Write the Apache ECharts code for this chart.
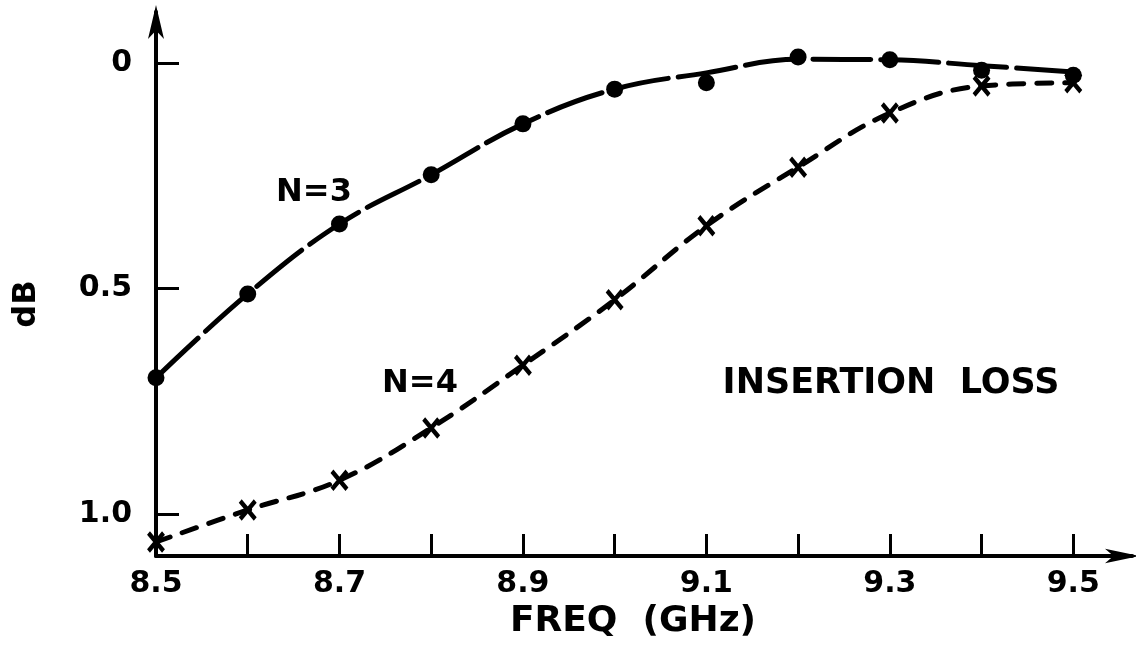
<!DOCTYPE html>
<html>
<head>
<meta charset="utf-8">
<script src="https://cdn.jsdelivr.net/npm/echarts@6/dist/echarts.min.js"></script>
<style>
html,body{margin:0;padding:0;background:#fff;}
#chart{width:1136px;height:647px;}
</style>
</head>
<body>
<div id="chart"></div>
<script>
// ---- data ----
const freqs = [8.5, 8.6, 8.7, 8.8, 8.9, 9.0, 9.1, 9.2, 9.3, 9.4, 9.5];
// N=3 measured points (dots)
const lossN3Points = [0.698, 0.512, 0.357, 0.248, 0.135, 0.058, 0.044, -0.013, -0.007, 0.016, 0.027];
// N=3 drawn curve
const lossN3Curve = [0.698, 0.512, 0.357, 0.248, 0.135, 0.058, 0.022, -0.008, -0.007, 0.006, 0.020];
// N=4 measured points (crosses)
const lossN4 = [1.062, 0.991, 0.925, 0.809, 0.670, 0.525, 0.361, 0.231, 0.111, 0.051, 0.044];

const xTickValues = [8.5, 8.6, 8.7, 8.8, 8.9, 9.0, 9.1, 9.2, 9.3, 9.4, 9.5];
const xLabelValues = [8.5, 8.7, 8.9, 9.1, 9.3, 9.5];
const xLabels = ['8.5', '8.7', '8.9', '9.1', '9.3', '9.5'];
const yTickValues = [0, 0.5, 1.0];
const yLabels = ['0', '0.5', '1.0'];

const FONT = '"DejaVu Sans", sans-serif';

function pick(values, labels) {
  return function (v) {
    const i = values.findIndex(t => Math.abs(t - v) < 1e-6);
    return i >= 0 ? labels[i] : '';
  };
}

const chart = echarts.init(document.getElementById('chart'), null, {renderer: 'canvas'});
chart.setOption({
  animation: false,
  backgroundColor: '#fff',
  grid: {left: 156, right: 4, top: 12, bottom: 91, containLabel: false, outerBoundsMode: 'none'},
  xAxis: {
    type: 'value',
    min: 8.5,
    max: 9.564,
    interval: 0.1,
    splitLine: {show: false},
    axisLine: {
      show: true, onZero: false,
      lineStyle: {color: '#000', width: 4},
      symbol: ['none', 'arrow'],
      symbolSize: [11, 34],
      symbolOffset: [0, 7]
    },
    axisTick: {
      show: true, inside: true, length: 22,
      lineStyle: {color: '#000', width: 3},
      customValues: xTickValues
    },
    axisLabel: {
      customValues: xLabelValues,
      formatter: pick(xLabelValues, xLabels),
      color: '#000', fontSize: 30, fontWeight: 'bold', fontFamily: FONT, margin: 13
    },
    name: 'FREQ  (GHz)',
    nameLocation: 'middle',
    nameGap: 44,
    nameTextStyle: {color: '#000', fontSize: 36, fontWeight: 'bold', fontFamily: FONT, padding: [0, 22, 0, 0]}
  },
  yAxis: {
    type: 'value',
    inverse: true,
    min: -0.113,
    max: 1.093,
    splitLine: {show: false},
    axisLine: {
      show: true, onZero: false,
      lineStyle: {color: '#000', width: 4},
      symbol: ['none', 'arrow'],
      symbolSize: [12, 34],
      symbolOffset: [0, 7]
    },
    axisTick: {
      show: true, inside: true, length: 23,
      lineStyle: {color: '#000', width: 3},
      customValues: yTickValues
    },
    axisLabel: {
      customValues: yTickValues,
      formatter: pick(yTickValues, yLabels),
      color: '#000', fontSize: 30, fontWeight: 'bold', fontFamily: FONT, margin: 24
    },
    name: 'dB',
    nameLocation: 'middle',
    nameRotate: 90,
    nameGap: 113,
    nameTextStyle: {color: '#000', fontSize: 32, fontWeight: 'bold', fontFamily: FONT, padding: [0, 40, 0, 0]}
  },
  series: [
    {
      name: 'N=3 curve',
      type: 'line',
      data: freqs.map((f, i) => [f, lossN3Curve[i]]),
      smooth: 0.4,
      showSymbol: false,
      lineStyle: {color: '#000', width: 5, type: [58, 10], cap: 'round'},
      z: 2
    },
    {
      name: 'N=3',
      type: 'scatter',
      data: freqs.map((f, i) => [f, lossN3Points[i]]),
      symbol: 'circle',
      symbolSize: 17,
      itemStyle: {color: '#000', opacity: 1},
      z: 3
    },
    {
      name: 'N=4',
      type: 'line',
      data: freqs.map((f, i) => [f, lossN4[i]]),
      smooth: 0.4,
      showSymbol: true,
      showAllSymbol: true,
      symbol: 'path://M0,0L10,12M10,0L0,12',
      symbolSize: [15, 18],
      itemStyle: {color: '#000', borderColor: '#000', borderWidth: 4.5, opacity: 1},
      lineStyle: {color: '#000', width: 5, type: [15, 13], cap: 'round'},
      z: 2
    }
  ],
  graphic: [
    {type: 'text', x: 314, y: 193, style: {text: 'N=3', font: 'bold 32px "DejaVu Sans"', fill: '#000', align: 'center', verticalAlign: 'middle'}},
    {type: 'text', x: 420, y: 384, style: {text: 'N=4', font: 'bold 32px "DejaVu Sans"', fill: '#000', align: 'center', verticalAlign: 'middle'}},
    {type: 'text', x: 891, y: 384, style: {text: 'INSERTION  LOSS', font: 'bold 35px "DejaVu Sans"', fill: '#000', align: 'center', verticalAlign: 'middle'}}
  ]
});
</script>
</body>
</html>
